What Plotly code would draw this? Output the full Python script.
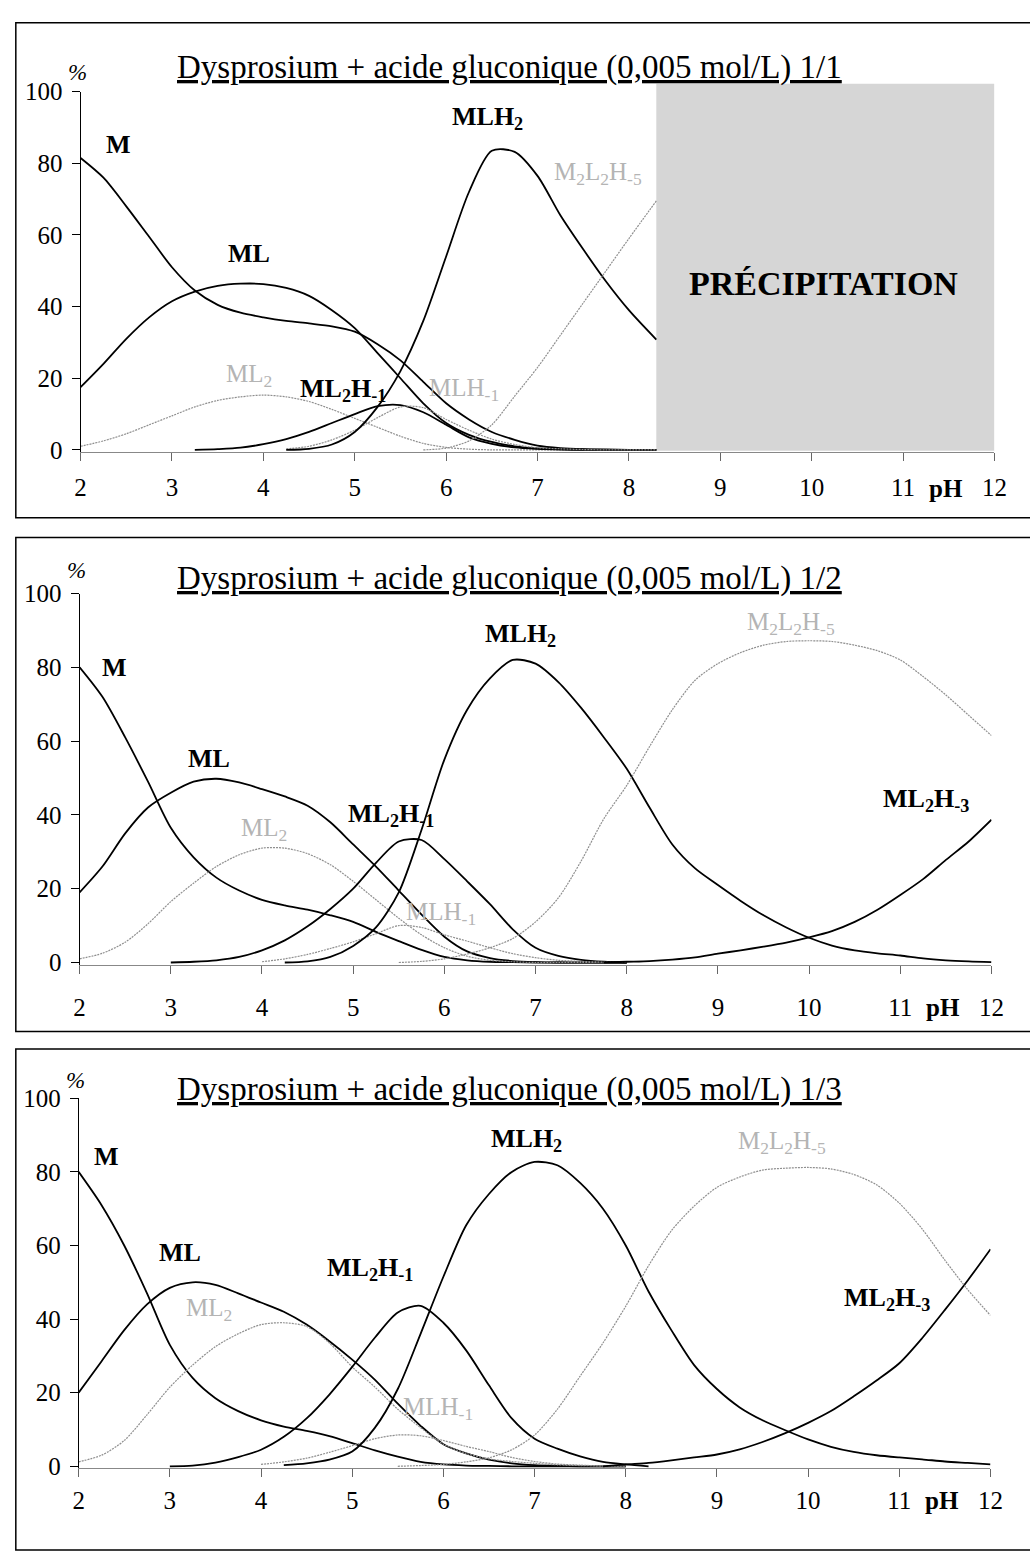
import plotly.graph_objects as go

W, H = 1030, 1557
FONT = "Liberation Serif, Times New Roman, serif"
GRAY = "#8f8f8f"
GRAY_TXT = "#b4b4b4"

# ---------------- data ----------------
PH_1 = [2.0, 2.25, 2.5, 2.75, 3.0, 3.25, 3.5, 3.75, 4.0, 4.25, 4.5, 4.75, 5.0,
        5.25, 5.5, 5.75, 6.0, 6.25, 6.5, 6.75, 7.0, 7.25, 7.5, 7.75, 8.0, 8.3]
P1_M = [81.5, 76, 68, 59.5, 51, 44.5, 40.5, 38.3, 37, 36, 35.3, 34.5, 33,
        29.5, 25, 19, 13, 8.5, 5, 2.8, 1.2, 0.5, 0.2, 0.1, 0, 0]
P1_ML = [17.5, 24, 31, 37, 41.5, 44.2, 45.8, 46.4, 46.3, 45.2, 43, 39, 34,
         27, 20, 13, 7.5, 4.2, 2.2, 1.0, 0.4, 0.2, 0.1, 0, 0, 0]
P1_ML2 = [1, 2.5, 4.5, 7, 9.5, 12, 13.8, 14.8, 15.3, 14.8, 13.5, 11.3, 8.8,
          6.3, 3.8, 1.8, 0.7, 0.2, 0, 0, 0, 0, 0, 0, 0, 0]
P1_ML2H1 = [None, None, None, None, None, 0, 0.2, 0.6, 1.6, 3, 5, 7.5, 10,
            12.2, 12.5, 10.5, 7, 3.5, 1.7, 0.7, 0.3, 0.1, 0, 0, 0, 0]
P1_MLH1 = [None, None, None, None, None, None, None, None, None, 0.3, 1, 2.8, 5.5,
           9, 12, 11.8, 8.5, 5.5, 3, 1.5, 0.6, 0.3, 0.1, 0, 0, 0]
P1_MLH2 = [None, None, None, None, None, None, None, None, None, 0, 0.3, 1.5, 5,
           12, 22, 36, 54, 72, 83.5, 83.2, 76.5, 65.5, 56, 47, 39, 30.8]
P1_M2L2H5 = [None, None, None, None, None, None, None, None, None, None, None, None, None,
             None, None, 0, 0.5, 2.5, 7, 15, 23, 32, 41, 50, 59, 69.5]

PH = [2.0, 2.25, 2.5, 2.75, 3.0, 3.25, 3.5, 3.75, 4.0, 4.25, 4.5, 4.75, 5.0,
      5.25, 5.5, 5.75, 6.0, 6.25, 6.5, 6.75, 7.0, 7.25, 7.5, 7.75, 8.0,
      8.25, 8.5, 8.75, 9.0, 9.25, 9.5, 9.75, 10.0, 10.25, 10.5, 10.75, 11.0,
      11.25, 11.5, 11.75, 12.0]
N = None

P2_M = [80, 72, 61, 49, 36.5, 28.5, 23, 19.5, 17, 15.5, 14.3, 12.8, 11,
        8.3, 5.8, 3.4, 1.5, 0.6, 0.2, 0.1, 0, 0, 0, 0, 0] + [N] * 16
P2_ML = [19, 26, 35, 42, 46, 49, 49.8, 48.8, 47, 45, 42.5, 38, 32,
         26, 19.5, 13, 7, 3, 1.2, 0.4, 0.1, 0, 0, 0, 0] + [N] * 16
P2_ML2 = [1, 2.5, 5.5, 10.5, 16.5, 21.5, 26, 29.2, 31, 31, 29.5, 26.5, 22,
          17, 12, 7.5, 4, 1.7, 0.6, 0.2, 0, 0, 0, 0, 0] + [N] * 16
P2_ML2H1 = [N, N, N, N, 0, 0.2, 0.6, 1.5, 3.3, 6, 9.8, 14.5, 20,
            27, 32.8, 33.2, 28, 22, 15.8, 9, 4, 1.8, 0.7, 0.2, 0] + [N] * 16
P2_MLH1 = [N, N, N, N, N, N, N, N, 0.2, 1, 2.2, 3.8, 5.6,
           7.8, 10, 9.5, 7.5, 5.8, 4, 2.4, 1.3, 0.6, 0.3, 0.1, 0] + [N] * 16
P2_MLH2 = [N, N, N, N, N, N, N, N, N, 0, 0.3, 1.5, 4.5,
           9.5, 19, 36, 55, 68.5, 77, 82, 81, 76, 69, 61, 52.5,
           42, 32, 25.5, 21, 16.7, 12.8, 9.5, 6.7, 4.6, 3.3, 2.5, 1.9,
           1.1, 0.6, 0.3, 0.1]
P2_ML2H3 = [N] * 23 + [0, 0.2, 0.4, 0.8, 1.4, 2.4, 3.3, 4.3, 5.4, 6.8, 8.5, 11, 14.3, 18.3,
                       22.6, 27.8, 32.8, 38.7]
P2_M2L2H5 = [N] * 14 + [0, 0.3, 1, 2.3, 4, 6.5, 11, 17.5, 27.5, 39, 48,
                        58.5, 68.5, 76.5, 81, 84, 86, 87, 87.2, 87, 86, 84.5, 82,
                        77.5, 72.5, 67, 61.5]

P3_M = [80, 71, 60, 47, 33, 24, 18.5, 15, 12.5, 10.8, 9.6, 8.2, 6.3,
        4.3, 2.6, 1.2, 0.5, 0.2, 0.1, 0, 0, 0, 0, 0, 0] + [N] * 16
P3_ML = [20, 28.5, 37, 44, 48.5, 50, 49.3, 47, 44.5, 42, 38.5, 34, 29,
         23.5, 17, 11, 6, 3.5, 1.8, 0.8, 0.3, 0.1, 0, 0, 0] + [N] * 16
P3_ML2 = [1.2, 3, 7, 14, 21.5, 27.5, 32.5, 36, 38.5, 39, 38, 33.5, 27,
          21.5, 15.5, 10.5, 6, 3.5, 2, 1.3, 0.8, 0.4, 0.2, 0.1, 0] + [N] * 16
P3_ML2H1 = [N, N, N, N, 0, 0.2, 1, 2.5, 4.5, 8, 13, 19.5, 27,
            35, 41.8, 43.6, 39, 31.5, 22, 13, 7.5, 4.8, 2.7, 1.2, 0.5, 0] + [N] * 15
P3_MLH1 = [N, N, N, N, N, N, N, N, 0.5, 1.2, 2.2, 3.8, 5.6,
           7.5, 8.5, 8.3, 7, 5.4, 4, 2.4, 1.3, 0.6, 0.3, 0.1, 0] + [N] * 16
P3_MLH2 = [N, N, N, N, N, N, N, N, N, 0.3, 0.8, 1.8, 4,
           10.5, 21, 36, 51.5, 65.5, 74, 80, 82.7, 81.8, 77, 70, 60,
           47.5, 37, 27.5, 21, 16, 12.5, 9.8, 7.3, 5.3, 3.9, 3, 2.4,
           1.9, 1.3, 0.9, 0.5]
P3_ML2H3 = [N] * 23 + [0, 0.5, 0.9, 1.6, 2.4, 3.2, 4.6, 6.6, 9, 11.8, 15, 19, 23.3, 28,
                       34.8, 42.5, 50.5, 59]
P3_M2L2H5 = [N] * 14 + [0, 0.2, 0.5, 1.2, 2.3, 4.5, 8.5, 15.5, 24.5, 33.5, 43.5,
                        54.5, 64, 70.7, 75.8, 78.6, 80.5, 81, 81.2, 80.8, 79.3, 76.5, 71.5,
                        64.5, 56, 48, 41]

PRECIP_PH = [8.3, 12.0]

TITLES = ["Dysprosium + acide gluconique (0,005 mol/L) 1/1",
          "Dysprosium + acide gluconique (0,005 mol/L) 1/2",
          "Dysprosium + acide gluconique (0,005 mol/L) 1/3"]

# species: (label, dark?)
LBL = {
    "M": ("M", True), "ML": ("ML", True), "ML2": ("ML<sub>2</sub>", False),
    "ML2H1": ("ML<sub>2</sub>H<sub>-1</sub>", True), "MLH1": ("MLH<sub>-1</sub>", False),
    "MLH2": ("MLH<sub>2</sub>", True), "M2L2H5": ("M<sub>2</sub>L<sub>2</sub>H<sub>-5</sub>", False),
    "ML2H3": ("ML<sub>2</sub>H<sub>-3</sub>", True),
}

panels = [
    dict(ph=PH_1, series={"M": P1_M, "ML": P1_ML, "ML2": P1_ML2, "ML2H1": P1_ML2H1,
                          "MLH1": P1_MLH1, "MLH2": P1_MLH2, "M2L2H5": P1_M2L2H5},
         labels={"M": (2.42, 85.4), "ML": (3.84, 54.7), "ML2": (3.84, 20.9),
                 "ML2H1": (4.87, 16.8), "MLH1": (6.2, 16.8), "MLH2": (6.45, 92.6),
                 "M2L2H5": (7.66, 77.2)},
         px0=76, px12=1007, py0=444, py100=80, title_y=55, pct_y=60, lab_y=483,
         standoff=5, box=(10, 513)),
    dict(ph=PH, series={"M": P2_M, "ML": P2_ML, "ML2": P2_ML2, "ML2H1": P2_ML2H1,
                        "MLH1": P2_MLH1, "MLH2": P2_MLH2, "ML2H3": P2_ML2H3,
                        "M2L2H5": P2_M2L2H5},
         labels={"M": (2.38, 80), "ML": (3.42, 55.2), "ML2": (4.02, 36),
                 "ML2H1": (5.42, 40), "MLH1": (5.96, 13.3), "MLH2": (6.84, 88.8),
                 "M2L2H5": (9.8, 92), "ML2H3": (11.28, 44)},
         px0=75, px12=1004, py0=965, py100=590, title_y=575, pct_y=567, lab_y=1011,
         standoff=12, box=(533, 1035)),
    dict(ph=PH, series={"M": P3_M, "ML": P3_ML, "ML2": P3_ML2, "ML2H1": P3_ML2H1,
                        "MLH1": P3_MLH1, "MLH2": P3_MLH2, "ML2H3": P3_ML2H3,
                        "M2L2H5": P3_M2L2H5},
         labels={"M": (2.31, 84.2), "ML": (3.11, 58), "ML2": (3.43, 42.5),
                 "ML2H1": (5.19, 53.5), "MLH1": (5.94, 15.8), "MLH2": (6.91, 88.8),
                 "M2L2H5": (9.71, 88), "ML2H3": (10.86, 45.5)},
         px0=74, px12=1003, py0=1477, py100=1103, title_y=1094, pct_y=1085, lab_y=1512,
         standoff=2, box=(1053, 1562)),
]

YLO, YHI = -0.6, 100


def ypaper(pix):
    return 1 - pix / H


fig = go.Figure()
layout = dict(width=W, height=H, margin=dict(l=0, r=0, t=0, b=0),
              paper_bgcolor="white", plot_bgcolor="rgba(0,0,0,0)",
              showlegend=False, font=dict(family=FONT, color="black"))
annotations, shapes = [], []
mid = dict(xanchor="center", yanchor="middle", showarrow=False)

for i, p in enumerate(panels):
    n = i + 1
    sfx = "" if n == 1 else str(n)
    xa, ya = "x" + sfx, "y" + sfx
    k = (p["py0"] - p["py100"]) / 100
    ydom = [ypaper(p["py0"] - YLO * k), ypaper(p["py0"] - YHI * k)]
    xdom = [p["px0"] / W, p["px12"] / W]

    for key, vals in p["series"].items():
        dark = LBL[key][1]
        fig.add_trace(go.Scatter(
            x=p["ph"], y=vals, xaxis=xa, yaxis=ya, mode="lines",
            line=dict(color="black" if dark else GRAY, width=1.8 if dark else 1.2,
                      dash="solid" if dark else "2px,1px",
                      shape="spline", smoothing=0.8),
            connectgaps=False, hoverinfo="skip"))
        lx, ly = p["labels"][key]
        annotations.append(dict(
            x=lx, y=ly, xref=xa, yref=ya,
            text="<b>%s</b>" % LBL[key][0] if dark else LBL[key][0],
            font=dict(size=26 if dark else 25, family=FONT,
                      color="black" if dark else GRAY_TXT), **mid))

    sub = dict(tickfont=dict(size=25, family=FONT), showgrid=False, zeroline=False)
    layout["xaxis" + sfx] = dict(domain=xdom, range=[2, 12], anchor=ya, dtick=1, tick0=2,
                                 ticks="outside", ticklen=8, tickcolor="#666", showline=True,
                                 linecolor="#888", linewidth=1,
                                 ticklabelstandoff=p["standoff"], **sub)
    layout["yaxis" + sfx] = dict(domain=ydom, range=[YLO, YHI], anchor=xa,
                                 tickvals=[0, 20, 40, 60, 80, 100], ticks="outside", ticklen=8,
                                 tickcolor="black", showline=True, linecolor="black", linewidth=1,
                                 ticklabelstandoff=4, **sub)
    # inner half of the crossing tick marks
    ox, oy = "xaxis" + str(n + 3), "yaxis" + str(n + 3)
    layout[ox] = dict(domain=xdom, range=[2, 12], overlaying=xa, anchor=ya, dtick=1, tick0=2,
                      ticks="inside", ticklen=8, tickcolor="#666", showticklabels=False,
                      showline=False, showgrid=False, zeroline=False)
    layout[oy] = dict(domain=ydom, range=[YLO, YHI], overlaying=ya, anchor=xa,
                      tickvals=[0, 20, 40, 60, 80, 100], ticks="inside", ticklen=8,
                      tickcolor="black", showticklabels=False, showline=False,
                      showgrid=False, zeroline=False)

    annotations.append(dict(x=513 / W, y=ypaper(p["title_y"]), xref="paper", yref="paper",
                            text="<u>%s</u>" % TITLES[i],
                            font=dict(size=33, family=FONT), **mid))
    annotations.append(dict(x=(p["px0"] - 3) / W, y=ypaper(p["pct_y"]), xref="paper", yref="paper",
                            text="<i>%</i>", font=dict(size=23, family=FONT), **mid))
    annotations.append(dict(x=11.47, y=ypaper(p["lab_y"]), xref=xa, yref="paper",
                            text="<b>pH</b>", font=dict(size=25, family=FONT), **mid))
    shapes.append(dict(type="rect", xref="paper", yref="paper", x0=10 / W, x1=1.02,
                       y0=ypaper(p["box"][1]), y1=ypaper(p["box"][0]),
                       line=dict(color="black", width=1.5), fillcolor="rgba(0,0,0,0)"))

# precipitation zone on the first panel
shapes.append(dict(type="rect", xref="x", yref="paper", x0=PRECIP_PH[0], x1=PRECIP_PH[1],
                   y0=ypaper(445), y1=ypaper(72), layer="below", line=dict(width=0),
                   fillcolor="#d6d6d6"))
annotations.append(dict(x=10.13, y=46.4, xref="x", yref="y", text="<b>PRÉCIPITATION</b>",
                        font=dict(size=34, family=FONT), **mid))

layout["annotations"] = annotations
layout["shapes"] = shapes
fig.update_layout(**layout)
fig.write_html("out.html", config={"displayModeBar": False},
               post_script="document.body.style.margin='0';document.body.style.overflow='hidden';")
